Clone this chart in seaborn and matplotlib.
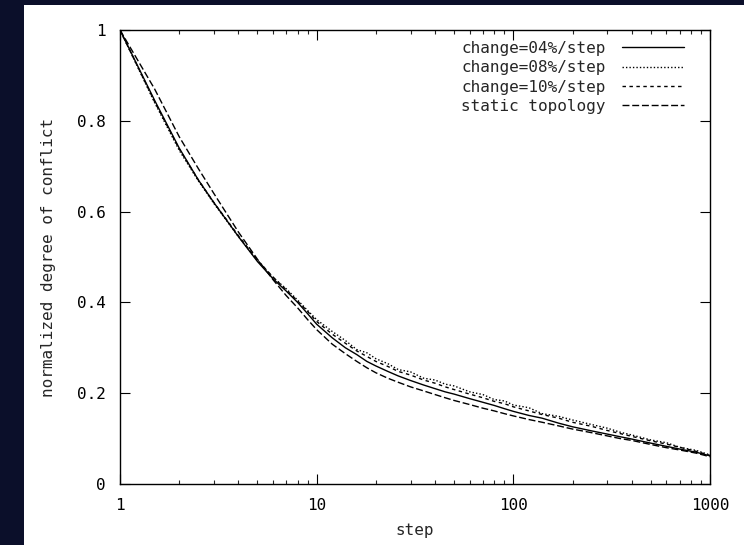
import matplotlib
matplotlib.use("Agg")
import matplotlib.pyplot as plt
from matplotlib.patches import Rectangle
import seaborn as sns

# step values shared by all series
steps = [1, 1.5, 2, 2.5, 3, 4, 5, 6, 7, 8, 9, 10, 12, 14, 16, 18, 20, 23, 26, 30,
         35, 40, 45, 50, 60, 70, 80, 90, 100, 120, 140, 170, 200, 250, 300, 350,
         400, 500, 600, 700, 850, 1000]

change_04 = [1.0, 0.845, 0.74, 0.67, 0.62, 0.545, 0.49, 0.452, 0.425, 0.40, 0.375,
             0.352, 0.322, 0.30, 0.285, 0.27, 0.26, 0.248, 0.238, 0.228, 0.218,
             0.21, 0.203, 0.198, 0.188, 0.18, 0.173, 0.166, 0.16, 0.151, 0.145,
             0.134, 0.126, 0.117, 0.11, 0.104, 0.099, 0.09, 0.083, 0.077, 0.07, 0.062]

change_08 = [1.0, 0.84, 0.735, 0.668, 0.618, 0.545, 0.492, 0.455, 0.43, 0.405, 0.382,
             0.362, 0.336, 0.316, 0.296, 0.289, 0.276, 0.265, 0.252, 0.247, 0.233,
             0.229, 0.22, 0.216, 0.203, 0.197, 0.186, 0.183, 0.174, 0.168, 0.155,
             0.149, 0.141, 0.131, 0.123, 0.114, 0.108, 0.097, 0.091, 0.081, 0.074, 0.064]

change_10 = [1.0, 0.842, 0.738, 0.67, 0.62, 0.547, 0.493, 0.456, 0.428, 0.403, 0.38,
             0.358, 0.33, 0.31, 0.293, 0.281, 0.27, 0.259, 0.248, 0.24, 0.229,
             0.222, 0.214, 0.208, 0.198, 0.19, 0.182, 0.177, 0.17, 0.161, 0.153,
             0.145, 0.136, 0.127, 0.118, 0.111, 0.105, 0.095, 0.088, 0.081, 0.072, 0.063]

static_topology = [1.0, 0.87, 0.765, 0.695, 0.64, 0.555, 0.495, 0.45, 0.415, 0.388, 0.362,
                   0.34, 0.308, 0.287, 0.27, 0.256, 0.245, 0.233, 0.224, 0.214, 0.205,
                   0.197, 0.19, 0.184, 0.175, 0.167, 0.161, 0.155, 0.15, 0.142, 0.136,
                   0.128, 0.121, 0.113, 0.106, 0.10, 0.096, 0.087, 0.08, 0.075, 0.068, 0.06]

series_labels = ["change=04%/step", "change=08%/step", "change=10%/step", "static topology"]

x_ticks = [1, 10, 100, 1000]
x_tick_labels = ["1", "10", "100", "1000"]
y_ticks = [0, 0.2, 0.4, 0.6, 0.8, 1]
y_tick_labels = ["0", "0.2", "0.4", "0.6", "0.8", "1"]

sns.set_style("ticks")
plt.rcParams['font.family'] = ['DejaVu Sans Mono', 'DejaVu Sans']

W, H = 744, 545
fig = plt.figure(figsize=(W / 100, H / 100), dpi=100, facecolor="#0b0f2a")
# white page area on top of the dark border
fig.patches.append(Rectangle((24 / W, 0), 1 - 24 / W, (H - 5) / H,
                             transform=fig.transFigure, facecolor="white",
                             edgecolor="none", zorder=-10))

ax = fig.add_axes([120 / W, (H - 484) / H, 590 / W, 454 / H])
ax.set_facecolor("white")

styles = ["-", (0, (1, 1.5)), (0, (2.5, 2.5)), (0, (5, 2))]
for vals, lab, ls in zip([change_04, change_08, change_10, static_topology], series_labels, styles):
    sns.lineplot(x=steps, y=vals, ax=ax, color="black", lw=1.0, linestyle=ls, label=lab)

ax.set_xscale("log")
ax.set_xlim(1, 1000)
ax.set_ylim(0, 1)
ax.set_xticks(x_ticks)
ax.set_xticklabels(x_tick_labels)
ax.set_yticks(y_ticks)
ax.set_yticklabels(y_tick_labels)

ax.tick_params(which="major", direction="in", length=7, width=0.8,
               top=True, right=True, labelsize=11.5, pad=10, colors="black")
ax.tick_params(axis="x", which="minor", direction="in", length=3, width=0.8,
               top=True, bottom=True)
ax.tick_params(axis="y", which="minor", left=False, right=False)
for sp in ax.spines.values():
    sp.set_linewidth(1.0)
    sp.set_color("black")

ax.set_xlabel("step", fontsize=11.5, labelpad=7)
ax.set_ylabel("normalized degree of conflict", fontsize=11.5, labelpad=15)

leg = ax.legend(loc="upper right", bbox_to_anchor=(0.972, 0.997), frameon=False,
                markerfirst=False, fontsize=11.5, handlelength=3.9,
                handletextpad=1.0, labelspacing=0.27, borderaxespad=0.2)

fig.savefig("out.png", dpi=100, facecolor=fig.get_facecolor())
